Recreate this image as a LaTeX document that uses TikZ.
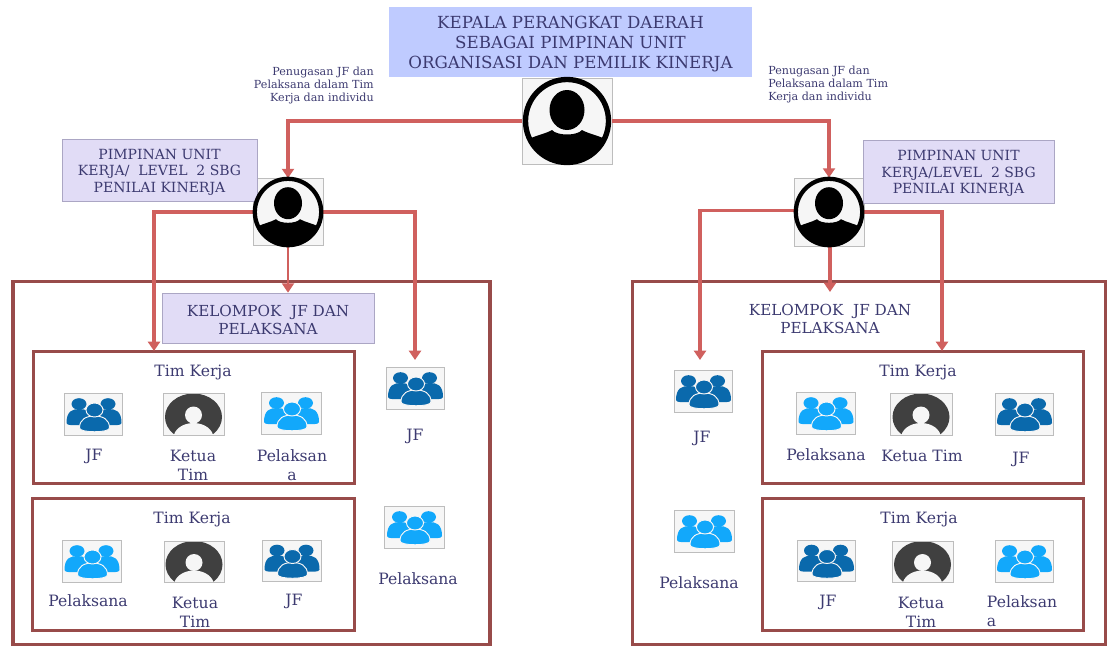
\documentclass[tikz,border=0pt]{standalone}
\usepackage{fontspec}
\setmainfont{DejaVu Serif}
\usetikzlibrary{arrows.meta,calc}
\definecolor{txt}{HTML}{3C3A70}
\definecolor{conn}{HTML}{D0605E}
\definecolor{frame}{HTML}{984B4A}
\definecolor{topfill}{HTML}{BFCBFF}
\definecolor{purp}{HTML}{E1DCF6}
\definecolor{purpl}{HTML}{ABA6C4}
\definecolor{iconbg}{HTML}{F6F6F6}
\definecolor{iconln}{HTML}{BDBDBD}
\definecolor{jfblue}{HTML}{0A69AC}
\definecolor{pelblue}{HTML}{12A8FB}
\definecolor{ketua}{HTML}{404040}
\tikzset{
  frameouter/.style={draw=frame,line width=2.6pt},
  frameinner/.style={draw=frame,line width=2.5pt},
  wire/.style={draw=conn,line width=2.4pt,-{Triangle[length=7pt,width=9pt]}},
  thinwire/.style={draw=conn,line width=1.5pt,-{Triangle[length=7pt,width=9pt]}},
  lbl/.style={text=txt,font=\fontsize{11.7}{14.2}\selectfont,inner sep=0pt,align=center},
  capbox/.style={text=txt,font=\fontsize{10.5}{12.4}\selectfont,align=center,inner sep=0pt,fill=purp,draw=purpl,line width=.5pt},
  note/.style={text=txt,font=\fontsize{8.35}{9.75}\selectfont,inner sep=0pt},
  iconbox/.style={draw=iconln,line width=.6pt,fill=iconbg,inner sep=0pt},
}
\newcommand{\boxnode}[5]{\node[iconbox,minimum width=#4*0.75pt,minimum height=#5*0.75pt] (#1) at (#2,#3) {};}
\newcommand{\groupicon}[6]{%
  \boxnode{#1}{#2}{#3}{#4}{#5}
  \begin{scope}[shift={(#2,#3)}]
    \fill[#6] (-27,9) .. controls (-27,-3) and (-21,-5) .. (-14,-5) .. controls (-7,-5) and (-3,-2) .. (-2,2) -- (-10,11) .. controls (-18,11) and (-27,12) .. (-27,9) -- cycle;
    \fill[#6] (28,9) .. controls (28,-3) and (22,-5) .. (15,-5) .. controls (8,-5) and (4,-2) .. (3,2) -- (11,11) .. controls (19,11) and (28,12) .. (28,9) -- cycle;
    \fill[#6] (-14.5,-10) ellipse [x radius=7.5,y radius=5.8];
    \fill[#6] (14.5,-10) ellipse [x radius=7.5,y radius=5.8];
    \filldraw[#6,draw=iconbg,line width=.7pt] (-14,14) .. controls (-14,5) and (-7,2) .. (1,2) .. controls (9,2) and (16,5) .. (16,14) .. controls (16,19) and (-14,19) .. (-14,14) -- cycle;
    \filldraw[#6,draw=iconbg,line width=.7pt] (1,-4) ellipse [x radius=8.5,y radius=7];
  \end{scope}}
\newcommand{\ketuaicon}[5]{%
  \boxnode{#1}{#2}{#3}{#4}{#5}
  \begin{scope}[shift={(#2,#3)}]
    \clip (-#4/2,-#5/2+1) rectangle (#4/2,#5/2-1);
    \fill[ketua] (0,3) ellipse [x radius=28.5,y radius=23.5];
    \fill[iconbg] (0,1) circle [radius=8.5];
    \fill[iconbg] (0,24) ellipse [x radius=20,y radius=15];
  \end{scope}}
\newcommand{\persondisc}[3]{%
  \begin{scope}[shift={(#1,#2)},scale=#3]
    \begin{scope}
      \clip (0,0) circle [radius=42];
      \fill (-42,21) -- (-38,18) .. controls (-30,14) and (-22,13) .. (-15,9) .. controls (-10,15) and (10,15) .. (15,9) .. controls (22,13) and (30,14) .. (38,18) -- (42,21) -- (42,44) -- (-42,44) -- cycle;
    \end{scope}
    \draw[line width=4pt*#3] (0,0) circle [radius=41.5];
    \fill (0,-11) ellipse [x radius=17.5,y radius=20];
  \end{scope}}
\begin{document}
\begin{tikzpicture}[x=0.75pt,y=-0.75pt]
\useasboundingbox (0,0) rectangle (1112,646);
\node[frameouter,minimum width=477*0.75pt,minimum height=363*0.75pt,inner sep=0pt] (outerL) at (251.5,463) {};
\node[frameouter,minimum width=473*0.75pt,minimum height=363*0.75pt,inner sep=0pt] (outerR) at (869,463) {};
\node[frameinner,minimum width=321*0.75pt,minimum height=132*0.75pt,inner sep=0pt] (timLa) at (194,417.5) {};
\node[frameinner,minimum width=322*0.75pt,minimum height=132*0.75pt,inner sep=0pt] (timLb) at (193.5,564.5) {};
\node[frameinner,minimum width=321*0.75pt,minimum height=132*0.75pt,inner sep=0pt] (timRa) at (923,417.5) {};
\node[frameinner,minimum width=321*0.75pt,minimum height=132*0.75pt,inner sep=0pt] (timRb) at (923,564.5) {};
\node[text=txt,font=\fontsize{12.5}{15}\selectfont,align=center,fill=topfill,inner sep=0pt,minimum width=363*0.75pt,minimum height=70*0.75pt] (top) at (570.5,42)
  {\rule{0pt}{11.8pt}KEPALA PERANGKAT DAERAH\\SEBAGAI PIMPINAN UNIT\\ORGANISASI DAN PEMILIK KINERJA};
\boxnode{boss}{567}{121}{90}{86}
\boxnode{leadL}{288}{212}{70}{67}
\boxnode{leadR}{829}{212}{70}{68}
\node[capbox,minimum width=195*0.75pt,minimum height=62*0.75pt] (capL) at (159.5,170)
  {\rule{0pt}{10.9pt}PIMPINAN UNIT\\KERJA/ \ LEVEL \ 2 SBG\\PENILAI KINERJA};
\node[capbox,minimum width=191*0.75pt,minimum height=63*0.75pt] (capR) at (958.5,171.5)
  {\rule{0pt}{10.9pt}PIMPINAN UNIT\\KERJA/LEVEL \ 2 SBG\\PENILAI KINERJA};
\node[capbox,minimum width=212*0.75pt,minimum height=50*0.75pt,font=\fontsize{11.4}{14}\selectfont] (kelL) at (268,318)
  {\rule{0pt}{11.6pt}KELOMPOK \ JF DAN\\PELAKSANA};
\node[lbl,font=\fontsize{11.4}{14}\selectfont] (kelR) at (830,319) {KELOMPOK \ JF DAN\\PELAKSANA};
\coordinate (toTimL) at (154,351);
\coordinate (toJfL) at (415,360);
\coordinate (toJfR) at (700,360);
\coordinate (toTimR) at (942,351);
\coordinate (toKelR) at (830,292);
\draw[wire] (boss.west) -| (leadL.north);
\draw[wire] (boss.east) -| (leadR.north);
\draw[wire] (leadL.west) -| (toTimL);
\draw[wire] (leadL.east) -| (toJfL);
\draw[thinwire] (leadL.south) -- (leadL.south |- kelL.north);
\draw[wire] ([yshift=1pt]leadR.west) -| (toJfR);
\draw[wire] (leadR.east) -| (toTimR);
\draw[wire] (leadR.south -| toKelR) -- (toKelR);
\persondisc{567}{121}{1}
\persondisc{288}{212}{0.8}
\persondisc{829}{212}{0.8}
\node[note,align=right,anchor=north east] (noteL) at (374,67) {Penugasan JF dan\\Pelaksana dalam Tim\\Kerja dan individu};
\node[note,align=left,anchor=north west] (noteR) at (768,66) {Penugasan JF dan\\Pelaksana dalam Tim\\Kerja dan individu};
\groupicon{iLa}{93.5}{414}{58}{42}{jfblue}
\ketuaicon{iLb}{193.5}{414}{61}{42}
\groupicon{iLc}{291}{413}{60}{42}{pelblue}
\groupicon{iLd}{415}{388}{58}{42}{jfblue}
\groupicon{iLe}{91.5}{561}{59}{42}{pelblue}
\ketuaicon{iLf}{194}{561.5}{60}{41}
\groupicon{iLg}{291.5}{560.5}{59}{41}{jfblue}
\groupicon{iLh}{414}{527}{60}{42}{pelblue}
\groupicon{iRa}{703}{391}{58}{42}{jfblue}
\groupicon{iRb}{704}{531}{60}{42}{pelblue}
\groupicon{iRc}{825.5}{413}{59}{42}{pelblue}
\ketuaicon{iRd}{921}{414}{62}{42}
\groupicon{iRe}{1024}{414}{58}{42}{jfblue}
\groupicon{iRf}{826}{560.5}{58}{41}{jfblue}
\ketuaicon{iRg}{922.5}{561.5}{61}{41}
\groupicon{iRh}{1024}{561}{58}{42}{pelblue}
\node[lbl] (a1) at (193,372) {Tim Kerja};
\node[lbl] (a2) at (94,456) {JF};
\node[lbl] (a3) at (193,465) {Ketua\\Tim};
\node[lbl] (a4) at (292,465) {Pelaksan\\a};
\node[lbl] (a5) at (415,436) {JF};
\node[lbl] (b1) at (192,519) {Tim Kerja};
\node[lbl] (b2) at (88,601) {Pelaksana};
\node[lbl] (b3) at (195,612) {Ketua\\Tim};
\node[lbl] (b4) at (294,601) {JF};
\node[lbl] (b5) at (418,579) {Pelaksana};
\node[lbl] (c1) at (702,438) {JF};
\node[lbl] (c2) at (699,583) {Pelaksana};
\node[lbl] (c3) at (918,372) {Tim Kerja};
\node[lbl] (c4) at (826,455) {Pelaksana};
\node[lbl] (c5) at (922,456) {Ketua Tim};
\node[lbl] (c6) at (1021,459) {JF};
\node[lbl] (d1) at (919,519) {Tim Kerja};
\node[lbl] (d2) at (828,602) {JF};
\node[lbl] (d3) at (921,612.5) {Ketua\\Tim};
\node[lbl,align=left] (d4) at (1022,611) {Pelaksan\\a};
\end{tikzpicture}
\end{document}
